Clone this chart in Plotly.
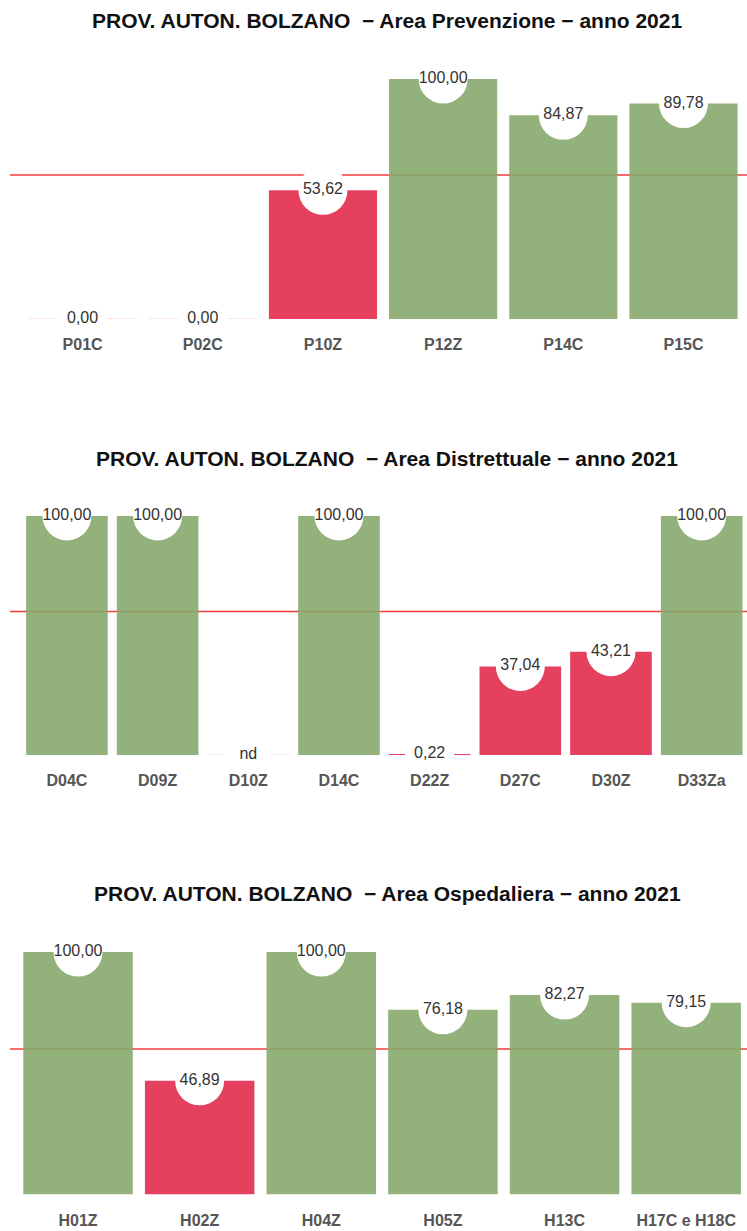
import plotly.graph_objects as go

THRESHOLD = 60

prev_cats = ["P01C", "P02C", "P10Z", "P12Z", "P14C", "P15C"]
prev_vals = [0.00, 0.00, 53.62, 100.00, 84.87, 89.78]

dist_cats = ["D04C", "D09Z", "D10Z", "D14C", "D22Z", "D27C", "D30Z", "D33Za"]
dist_vals = [100.00, 100.00, None, 100.00, 0.22, 37.04, 43.21, 100.00]

osp_cats = ["H01Z", "H02Z", "H04Z", "H05Z", "H13C", "H17C e H18C"]
osp_vals = [100.00, 46.89, 100.00, 76.18, 82.27, 79.15]

titles = [
    "PROV. AUTON. BOLZANO \u00a0\u2212 Area Prevenzione \u2212 anno 2021",
    "PROV. AUTON. BOLZANO \u00a0\u2212 Area Distrettuale \u2212 anno 2021",
    "PROV. AUTON. BOLZANO \u00a0\u2212 Area Ospedaliera \u2212 anno 2021",
]

W, H = 747, 1231
GREEN = "rgb(135,168,108)"
RED = "rgb(227,43,78)"
FONT = "Liberation Sans, Arial, sans-serif"

# pixel layout per panel: (x_left, x_right, baseline_y, top_y_for_105, title_y)
panels = [
    (prev_cats, prev_vals, 22.5, 743.6, 319, 67, 20),
    (dist_cats, dist_vals, 21.6, 747, 755, 504, 458),
    (osp_cats, osp_vals, 17.2, 747, 1194.5, 940, 893),
]

fig = go.Figure()
shapes = []
annotations = []
layout_axes = {}

for k, (cats, vals, xl, xr, yb, yt, ty) in enumerate(panels):
    n = k + 1
    xa = "x" if n == 1 else f"x{n}"
    ya = "y" if n == 1 else f"y{n}"
    plot_vals = [v if v is not None else 0 for v in vals]
    colors = [GREEN if (v is not None and v >= THRESHOLD) else RED for v in vals]
    labels = ["nd" if v is None else f"{v:.2f}".replace(".", ",") for v in vals]

    fig.add_trace(go.Bar(
        x=cats, y=plot_vals, xaxis=xa, yaxis=ya,
        marker=dict(color=colors, opacity=0.9, line=dict(width=0)),
        width=0.9, hoverinfo="skip", showlegend=False,
    ))
    fig.add_trace(go.Scatter(
        x=cats, y=plot_vals, xaxis=xa, yaxis=ya,
        mode="markers+text", text=labels, textposition="middle center",
        marker=dict(size=49, color="white", line=dict(width=0)),
        textfont=dict(family=FONT, size=16, color="#333333"),
        cliponaxis=False, hoverinfo="skip", showlegend=False,
    ))

    # faint baseline for empty bars
    for i, v in enumerate(vals):
        if v is None or v == 0:
            shapes.append(dict(type="line", xref=xa, yref=ya,
                               x0=i - 0.45, x1=i + 0.45, y0=0, y1=0,
                               line=dict(color="rgba(230,64,96,0.18)", width=1.5),
                               layer="below"))

    # threshold line
    shapes.append(dict(type="line", xref="paper", yref=ya,
                       x0=10 / W, x1=1, y0=THRESHOLD, y1=THRESHOLD,
                       line=dict(color="rgb(245,60,60)", width=1.5),
                       layer="below"))

    annotations.append(dict(text="<b>" + titles[k] + "</b>", xref="paper", yref="paper",
                            x=387 / W, y=1 - ty / H, xanchor="center", yanchor="middle",
                            showarrow=False,
                            font=dict(family=FONT, size=21, color="#111111")))

    layout_axes["xaxis" if n == 1 else f"xaxis{n}"] = dict(
        domain=[xl / W, min(xr / W, 1)], anchor=ya, type="category",
        range=[-0.5, len(cats) - 0.5], autorange=False,
        showgrid=False, zeroline=False, showline=False, ticks="",
        tickfont=dict(family=FONT, size=16, color="#555555", weight="bold"),
        ticklabelstandoff=14, fixedrange=True,
    )
    layout_axes["yaxis" if n == 1 else f"yaxis{n}"] = dict(
        domain=[1 - yb / H, 1 - yt / H], anchor=xa, range=[0, 105],
        visible=False, fixedrange=True,
    )

fig.update_layout(
    width=W, height=H,
    margin=dict(l=0, r=0, t=0, b=0),
    paper_bgcolor="white", plot_bgcolor="white",
    bargap=0.1, shapes=shapes, annotations=annotations,
    **layout_axes,
)

fig.write_html("out.html", config={"displayModeBar": False},
               post_script="document.body.style.margin='0';document.body.style.padding='0';")
